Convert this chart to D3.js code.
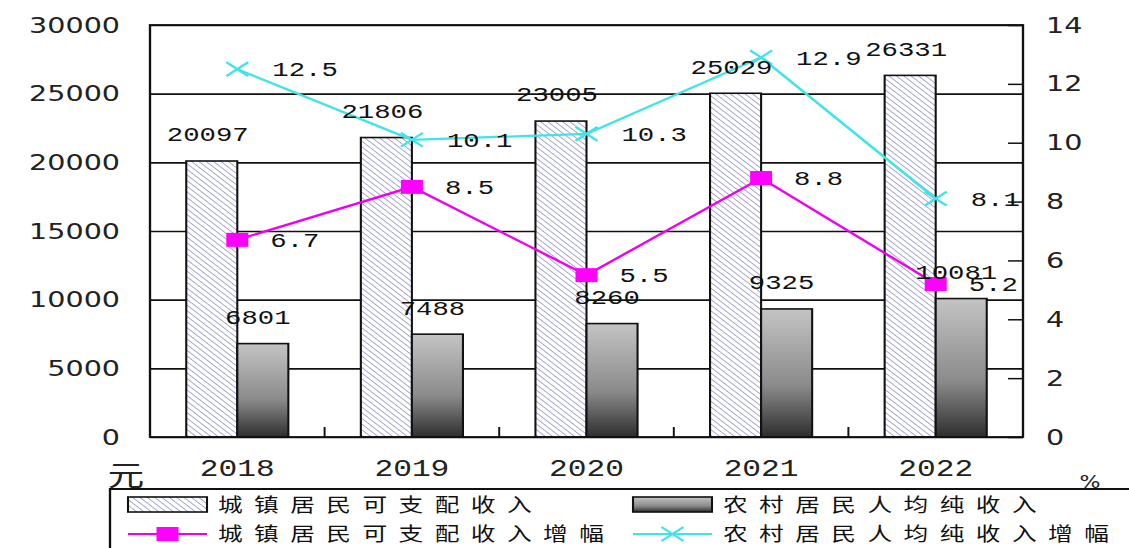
<!DOCTYPE html>
<html>
<head>
<meta charset="utf-8">
<script src="https://cdn.jsdelivr.net/npm/d3@7"></script>
<style>
  html, body { margin: 0; padding: 0; background: #fff; }
  svg { display: block; }
</style>
</head>
<body>
<svg id="chart"></svg>
<script>
const years = ["2018", "2019", "2020", "2021", "2022"];
const urbanIncome = [20097, 21806, 23005, 25029, 26331];
const ruralIncome = [6801, 7488, 8260, 9325, 10081];
const urbanGrowth = [6.7, 8.5, 5.5, 8.8, 5.2];
const ruralGrowth = [12.5, 10.1, 10.3, 12.9, 8.1];
const leftTicks = [0, 5000, 10000, 15000, 20000, 25000, 30000];
const rightTicks = [0, 2, 4, 6, 8, 10, 12, 14];
const legendNames = ["城镇居民可支配收入", "农村居民人均纯收入", "城镇居民可支配收入增幅", "农村居民人均纯收入增幅"];

// the picture is stretched sideways, so draw in a narrower box and stretch it
const K = 1.3;
const W = 1129, H = 548;
const X = px => px / K;

const svg = d3.select("#chart")
    .attr("width", W)
    .attr("height", H)
    .attr("viewBox", `0 0 ${W / K} ${H}`)
    .attr("preserveAspectRatio", "none");

const plot = { left: X(150), right: X(1023), top: 25, bottom: 437 };

const x = d3.scaleBand().domain(years).range([plot.left, plot.right]);
const x1 = d3.scaleBand().domain(["urban", "rural"]).range([0, x.bandwidth()]).paddingOuter(0.71);
const y = d3.scaleLinear().domain([0, 30000]).range([plot.bottom, plot.top]);
const y2 = d3.scaleLinear().domain([0, 14]).range([plot.bottom, plot.top]);

const defs = svg.append("defs");
const hatch = defs.append("pattern")
    .attr("id", "hatch")
    .attr("patternUnits", "userSpaceOnUse")
    .attr("width", 4).attr("height", 4)
    .attr("patternTransform", "rotate(-45)");
hatch.append("rect").attr("width", 4).attr("height", 4).attr("fill", "#fff");
hatch.append("line").attr("x1", 0).attr("y1", 0).attr("x2", 0).attr("y2", 4)
    .attr("stroke", "#7474b8").attr("stroke-width", 1.1);

const grad = defs.append("linearGradient")
    .attr("id", "gray").attr("x1", 0).attr("y1", 0).attr("x2", 0).attr("y2", 1);
grad.append("stop").attr("offset", "0%").attr("stop-color", "#c4c4c4");
grad.append("stop").attr("offset", "60%").attr("stop-color", "#8a8a8a");
grad.append("stop").attr("offset", "100%").attr("stop-color", "#2e2e2e");

// gridlines
svg.append("g")
    .attr("transform", `translate(${plot.left},0)`)
    .call(d3.axisLeft(y).tickValues(leftTicks).tickSize(-(plot.right - plot.left)).tickFormat(""))
    .call(g => g.select(".domain").remove())
    .call(g => g.selectAll("line").attr("stroke", "#111").attr("stroke-width", 1.6));

// bars
const groups = svg.append("g").selectAll("g")
    .data(years)
    .join("g")
    .attr("transform", d => `translate(${x(d)},0)`);

groups.append("rect")
    .attr("x", x1("urban"))
    .attr("width", x1.bandwidth())
    .attr("y", (d, i) => y(urbanIncome[i]))
    .attr("height", (d, i) => y(0) - y(urbanIncome[i]))
    .attr("fill", "url(#hatch)")
    .attr("stroke", "#111").attr("stroke-width", 1.6);

groups.append("rect")
    .attr("x", x1("rural"))
    .attr("width", x1.bandwidth())
    .attr("y", (d, i) => y(ruralIncome[i]))
    .attr("height", (d, i) => y(0) - y(ruralIncome[i]))
    .attr("fill", "url(#gray)")
    .attr("stroke", "#111").attr("stroke-width", 1.6);

// plot frame
svg.append("rect")
    .attr("x", plot.left).attr("y", plot.top)
    .attr("width", plot.right - plot.left).attr("height", plot.bottom - plot.top)
    .attr("fill", "none").attr("stroke", "#111").attr("stroke-width", 1.8);

// category ticks on the bottom edge
svg.append("g").selectAll("line")
    .data(years.slice(1))
    .join("line")
    .attr("x1", d => x(d)).attr("x2", d => x(d))
    .attr("y1", plot.bottom).attr("y2", plot.bottom - 10)
    .attr("stroke", "#111").attr("stroke-width", 1.5);

// left axis
svg.append("g")
    .attr("transform", `translate(${plot.left},0)`)
    .call(d3.axisLeft(y).tickValues(leftTicks).tickSize(0).tickPadding(X(30)).tickFormat(d3.format("d")))
    .call(g => g.select(".domain").remove())
    .call(g => g.selectAll("text")
        .attr("font-family", "DejaVu Sans").attr("font-size", 22).attr("fill", "#222"));

// right axis
svg.append("g")
    .attr("transform", `translate(${plot.right},0)`)
    .call(d3.axisRight(y2).tickValues(rightTicks).tickSize(-X(15)).tickPadding(X(23)))
    .call(g => g.select(".domain").remove())
    .call(g => g.selectAll("line").attr("stroke", "#111").attr("stroke-width", 1.5))
    .call(g => g.selectAll("text")
        .attr("font-family", "DejaVu Sans").attr("font-size", 22).attr("fill", "#222"));

// bottom axis (years)
svg.append("g")
    .attr("transform", `translate(0,${plot.bottom})`)
    .call(d3.axisBottom(x).tickSize(0).tickPadding(0))
    .call(g => g.select(".domain").remove())
    .call(g => g.selectAll("text")
        .attr("y", 31).attr("dy", "0.35em")
        .attr("font-family", "Liberation Mono").attr("font-size", 24).attr("fill", "#222"));

// lines
const cx = d => x(d) + x.bandwidth() / 2;

svg.append("path")
    .datum(years)
    .attr("fill", "none").attr("stroke", "#40e4e4").attr("stroke-width", 2.2)
    .attr("d", d3.line().x(cx).y((d, i) => y2(ruralGrowth[i])));

svg.append("path")
    .datum(years)
    .attr("fill", "none").attr("stroke", "#ee00ee").attr("stroke-width", 2.2)
    .attr("d", d3.line().x(cx).y((d, i) => y2(urbanGrowth[i])));

const mw = X(22) / 2, mh = 7;
svg.append("g").selectAll("rect")
    .data(years)
    .join("rect")
    .attr("x", d => cx(d) - mw).attr("width", mw * 2)
    .attr("y", (d, i) => y2(urbanGrowth[i]) - mh).attr("height", mh * 2)
    .attr("fill", "#ff00ff");

svg.append("g").selectAll("path")
    .data(years)
    .join("path")
    .attr("d", (d, i) => {
        const px = cx(d), py = y2(ruralGrowth[i]);
        return `M${px - mw},${py - mh}L${px + mw},${py + mh}M${px - mw},${py + mh}L${px + mw},${py - mh}`;
    })
    .attr("stroke", "#40e4e4").attr("stroke-width", 2);

// data labels
const labelFont = g => g.attr("font-family", "Liberation Mono").attr("font-size", 21)
    .attr("fill", "#111").attr("dy", "0.35em");

svg.append("g").selectAll("text")
    .data(years)
    .join("text")
    .attr("x", d => x(d) + x1("urban") + x1.bandwidth() / 2 - X(4))
    .attr("y", (d, i) => y(urbanIncome[i]) - 27)
    .attr("text-anchor", "middle")
    .text((d, i) => urbanIncome[i])
    .call(labelFont);

svg.append("g").selectAll("text")
    .data(years)
    .join("text")
    .attr("x", d => x(d) + x1("rural") + x1.bandwidth() / 2 - X(5))
    .attr("y", (d, i) => y(ruralIncome[i]) - 27)
    .attr("text-anchor", "middle")
    .text((d, i) => ruralIncome[i])
    .call(labelFont);

svg.append("g").selectAll("text")
    .data(years)
    .join("text")
    .attr("x", d => cx(d) + X(35))
    .attr("y", (d, i) => y2(ruralGrowth[i]))
    .text((d, i) => ruralGrowth[i].toFixed(1))
    .call(labelFont);

svg.append("g").selectAll("text")
    .data(years)
    .join("text")
    .attr("x", d => cx(d) + X(33))
    .attr("y", (d, i) => y2(urbanGrowth[i]))
    .text((d, i) => urbanGrowth[i].toFixed(1))
    .call(labelFont);

// unit labels
svg.append("text")
    .attr("x", X(126)).attr("y", 476).attr("dy", "0.35em")
    .attr("text-anchor", "middle")
    .attr("font-family", "Noto Sans CJK SC").attr("font-size", 28).attr("fill", "#222")
    .text("元");

svg.append("text")
    .attr("x", X(1090)).attr("y", 482).attr("dy", "0.35em")
    .attr("text-anchor", "middle")
    .attr("font-family", "DejaVu Sans").attr("font-size", 17).attr("fill", "#222")
    .text("%");

// legend
const legend = svg.append("g");
legend.append("path")
    .attr("d", `M${X(110)},${H}V489H${W / K}`)
    .attr("fill", "none").attr("stroke", "#111").attr("stroke-width", 1.8);

const legendItems = [
    { name: legendNames[0], kind: "hatch", lx: 128, ly: 505 },
    { name: legendNames[1], kind: "gray", lx: 633, ly: 505 },
    { name: legendNames[2], kind: "square", lx: 128, ly: 534 },
    { name: legendNames[3], kind: "cross", lx: 633, ly: 534 }
];

legendItems.forEach(it => {
    const g = legend.append("g");
    const x0 = X(it.lx), x2 = X(it.lx + 79);
    if (it.kind === "hatch" || it.kind === "gray") {
        g.append("rect")
            .attr("x", x0).attr("y", it.ly - 8)
            .attr("width", x2 - x0).attr("height", 15)
            .attr("fill", it.kind === "hatch" ? "url(#hatch)" : "url(#gray)")
            .attr("stroke", "#111").attr("stroke-width", 1.6);
    } else {
        const col = it.kind === "square" ? "#ee00ee" : "#40e4e4";
        g.append("line")
            .attr("x1", x0).attr("x2", x2).attr("y1", it.ly).attr("y2", it.ly)
            .attr("stroke", col).attr("stroke-width", 2.2);
        const mx = (x0 + x2) / 2;
        if (it.kind === "square") {
            g.append("rect").attr("x", mx - mw).attr("y", it.ly - mh)
                .attr("width", mw * 2).attr("height", mh * 2).attr("fill", "#ff00ff");
        } else {
            g.append("path")
                .attr("d", `M${mx - mw},${it.ly - mh}L${mx + mw},${it.ly + mh}M${mx - mw},${it.ly + mh}L${mx + mw},${it.ly - mh}`)
                .attr("stroke", col).attr("stroke-width", 2);
        }
    }
    g.append("text")
        .attr("x", X(it.lx + 90)).attr("y", it.ly).attr("dy", "0.35em")
        .attr("font-family", "Noto Sans CJK SC").attr("font-size", 19)
        .attr("letter-spacing", 8.8).attr("fill", "#111")
        .text(it.name);
});
</script>
</body>
</html>
